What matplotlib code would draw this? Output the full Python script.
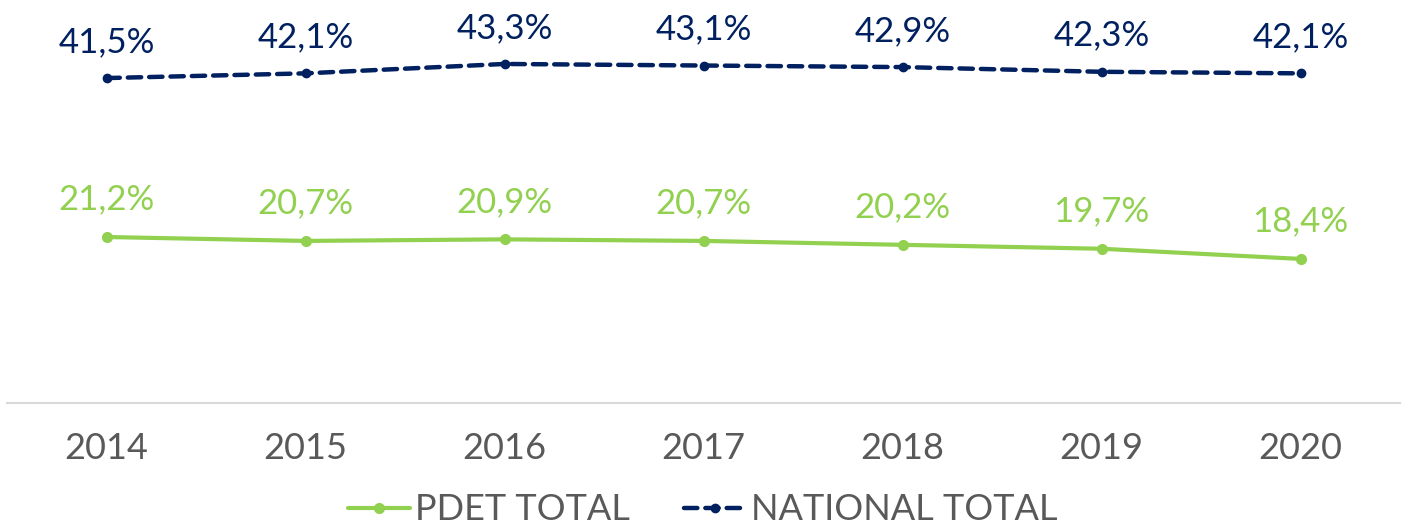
import matplotlib
matplotlib.use("Agg")
import matplotlib.pyplot as plt

years = ["2014", "2015", "2016", "2017", "2018", "2019", "2020"]
pdet = [21.2, 20.7, 20.9, 20.7, 20.2, 19.7, 18.4]
national = [41.5, 42.1, 43.3, 43.1, 42.9, 42.3, 42.1]

GREEN = "#92D050"
NAVY = "#002060"
GRAY = "#595959"

plt.rcParams['font.family'] = ['Lato', 'DejaVu Sans']

fig = plt.figure(figsize=(14.06, 5.27), dpi=100)
ax = fig.add_axes([7/1406, (527-403)/527, (1400-7)/1406, (403-11.5)/527])

x = list(range(len(years)))
l1, = ax.plot(x, pdet, color=GREEN, lw=3, marker='o', ms=7, solid_capstyle='round',
              label="PDET TOTAL")
l2, = ax.plot(x, national, color=NAVY, lw=3.2, ls=(0, (3, 1.8)), marker='o', ms=6,
              dash_capstyle='round', label="NATIONAL TOTAL")

for xi, v in zip(x, pdet):
    ax.annotate(f"{v:.1f}%".replace('.', ','), (xi, v), xytext=(0, 27),
                textcoords='offset points', ha='center', va='center',
                fontsize=25, color=GREEN)
for xi, v in zip(x, national):
    ax.annotate(f"{v:.1f}%".replace('.', ','), (xi, v), xytext=(0, 26),
                textcoords='offset points', ha='center', va='center',
                fontsize=25, color=NAVY)

ax.set_xlim(-0.5, len(years) - 0.5)
ax.set_ylim(0, 50)
ax.set_xticks(x)
ax.set_xticklabels(years, fontsize=26, color=GRAY)
ax.tick_params(axis='x', length=0, pad=21)
ax.set_yticks([])
for s in ['top', 'right', 'left']:
    ax.spines[s].set_visible(False)
ax.spines['bottom'].set_color('#D9D9D9')
ax.spines['bottom'].set_linewidth(1.5)

leg = fig.legend(handles=[l1, l2], loc='center', bbox_to_anchor=(0.5, 17/527),
                 ncol=2, frameon=False, fontsize=26, handlelength=1.7,
                 handletextpad=0.15, columnspacing=1.5, borderaxespad=0)
for t in leg.get_texts():
    t.set_color(GRAY)

fig.savefig("out.png", dpi=100)
